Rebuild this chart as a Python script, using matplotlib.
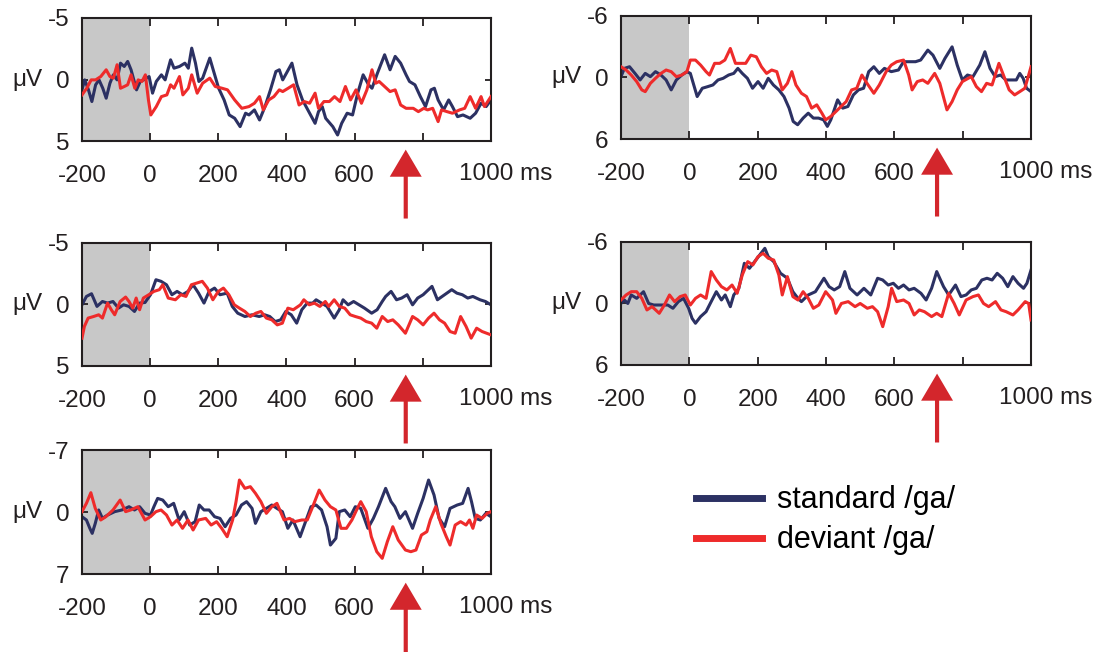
import matplotlib

matplotlib.use("Agg")
import matplotlib.pyplot as plt
from matplotlib.lines import Line2D

plt.rcParams["font.family"] = ["Liberation Sans", "DejaVu Sans"]

STD_COLOR = "#2c3163"
DEV_COLOR = "#ee2b2b"
ARROW_COLOR = "#d3262c"
BASELINE_COLOR = "#c8c8c8"

# panel 1 (top left), -5..5 uV
p1_std_t = [-200, -192, -181, -171, -160, -150, -139, -129, -118, -108, -97, -87, -76, -66, -56,
            -40, -29, -19, -3, 7, 18, 33, 44, 60, 70, 86, 102, 112, 122, 133, 143, 154, 175, 185,
            201, 217, 232, 248, 264, 280, 290, 306, 321, 337, 353, 369, 379, 389, 400, 416, 431,
            447, 468, 484, 494, 505, 515, 536, 550, 562, 578, 594, 609, 625, 641, 651, 667, 688,
            704, 719, 735, 751, 761, 777, 793, 808, 824, 834, 845, 861, 876, 887, 902, 918, 939,
            955, 971, 986, 1000]
p1_std_v = [0.84, 0.03, 0.84, 1.79, 0.43, 0.03, 0.71, 1.52, 0.30, -0.38, 0.03, -1.33, -1.06, -1.47,
            -0.79, 0.84, 0.16, 0.03, -0.24, 1.11, 0.16, -0.38, 0.03, -1.60, -0.92, -1.06, -1.33,
            -0.92, -2.55, -1.33, 0.16, -0.11, -1.74, -0.79, 0.71, 1.66, 2.88, 3.15, 3.83, 2.74,
            2.88, 2.47, 3.29, 2.20, 0.84, -0.65, -0.79, 0.03, -0.52, -1.33, 0.43, 1.66, 2.74, 3.56,
            2.61, 2.20, 3.15, 3.83, 4.51, 3.56, 2.74, 2.88, 1.11, -0.38, 0.43, 0.71, -0.52, -2.01,
            -0.79, -1.88, -1.33, -0.38, 0.16, 0.43, 1.39, 2.20, 0.84, 0.71, 1.66, 2.47, 1.66, 2.20,
            3.02, 2.88, 3.15, 2.74, 1.93, 2.20, 1.66]
p1_dev_t = [-200, -186, -173, -160, -145, -129, -118, -108, -97, -87, -76, -66, -56, -45, -35, -24,
            -14, -5, 2, 18, 33, 49, 60, 70, 86, 96, 112, 122, 138, 154, 175, 191, 211, 227, 248,
            269, 290, 306, 321, 332, 348, 363, 379, 389, 405, 421, 437, 452, 468, 484, 494, 510,
            526, 541, 557, 573, 588, 604, 620, 636, 651, 662, 672, 688, 704, 719, 735, 751, 772,
            787, 803, 814, 829, 845, 855, 871, 887, 908, 923, 939, 955, 971, 981, 1000]
p1_dev_v = [1.25, 0.71, 0.03, 0.03, -0.24, -0.79, -0.24, -0.11, -1.20, 0.71, 0.57, 0.43, -0.38,
            0.71, 0.03, 0.16, -0.38, 1.66, 2.88, 2.20, 1.39, 1.25, 0.43, 0.71, -0.24, 1.25, 0.71,
            -0.38, 1.11, 0.30, -0.11, 0.57, 0.71, 0.84, 1.66, 2.34, 2.20, 1.93, 1.39, 2.47, 1.66,
            1.39, 0.84, 0.98, 0.71, 0.43, 2.07, 1.79, 1.93, 1.11, 2.34, 1.79, 1.79, 1.39, 1.79,
            0.57, 1.66, 0.84, 1.93, 0.84, -0.79, 0.30, 0.16, 0.57, 0.98, 0.84, 2.07, 2.34, 2.34,
            2.61, 2.34, 2.47, 2.34, 3.42, 2.47, 2.61, 2.74, 2.47, 2.34, 1.39, 2.34, 1.39, 2.20, 1.39]

# panel 2 (top right), -6..6 uV
p2_std_t = [-200, -190, -175, -159, -144, -129, -114, -99, -83, -68, -53, -38, -22, -7, 3, 13, 23,
            38, 54, 69, 84, 99, 115, 130, 142, 155, 170, 185, 201, 216, 231, 246, 262, 277, 292,
            304, 317, 333, 348, 363, 378, 393, 404, 414, 424, 434, 449, 464, 480, 495, 510, 525,
            540, 556, 571, 591, 612, 627, 647, 662, 677, 698, 713, 733, 748, 769, 784, 799, 814,
            830, 850, 865, 880, 895, 911, 926, 941, 957, 967, 977, 987, 1000]
p2_std_v = [-0.08, -0.89, -1.05, -0.40, 0.24, -0.40, -0.08, -0.57, -0.24, 0.24, 1.21, 0.24, -0.24,
            -0.57, -0.40, 0.73, 1.86, 1.05, 0.89, 0.73, 0.24, 0.08, -0.24, -0.40, -0.89, -0.40,
            0.08, 1.05, 0.40, 1.05, 0.08, 0.73, 1.21, 1.86, 2.99, 4.29, 4.61, 3.96, 3.48, 3.96,
            3.96, 4.13, 4.77, 4.13, 3.16, 2.18, 2.99, 2.83, 1.70, 1.21, 1.05, -0.57, -1.05, -0.40,
            -0.89, -0.57, -0.73, -1.54, -1.54, -1.54, -1.70, -2.67, -2.18, -0.89, -1.86, -2.99,
            -1.21, 0.24, -0.24, -0.08, -1.21, -2.51, -0.89, -0.08, -0.24, 0.24, 0.24, 0.24, -0.40,
            0.08, 1.05, 1.38]
p2_dev_t = [-200, -185, -170, -154, -139, -129, -114, -99, -83, -68, -53, -38, -22, -7, 3, 18, 33,
            49, 59, 74, 89, 104, 120, 135, 150, 165, 180, 196, 211, 226, 241, 256, 272, 287, 300,
            312, 328, 343, 358, 373, 388, 399, 414, 429, 444, 459, 475, 490, 505, 520, 540, 556,
            576, 591, 607, 627, 642, 652, 667, 683, 698, 718, 733, 754, 769, 784, 799, 825, 840,
            855, 870, 886, 906, 921, 936, 952, 967, 982, 1000]
p2_dev_v = [-1.05, -0.73, -0.24, 0.40, 1.21, 1.38, 0.57, 0.08, -0.40, -0.73, -0.57, -0.08, -0.24,
            -0.57, -1.70, -1.70, -1.21, -0.57, -0.24, -1.38, -1.38, -1.70, -2.83, -1.38, -1.38,
            -1.38, -2.18, -2.02, -1.05, -0.40, -0.73, -0.57, 1.21, 0.57, -0.57, 0.73, 1.54, 1.86,
            2.99, 2.67, 3.48, 4.13, 3.80, 3.32, 2.83, 2.35, 1.21, 1.05, -0.24, 0.57, 1.54, 0.73,
            -0.57, -1.21, -1.54, -1.70, -0.24, 1.21, 0.40, 0.24, 0.57, -0.40, 0.57, 3.16, 2.35,
            1.21, 0.40, -0.08, 0.89, 1.38, 0.57, 0.73, -1.38, -0.08, 1.21, 1.70, 1.38, 1.05, -1.05]

# panel 3 (middle left), -5..5 uV
p3_std_t = [-200, -187, -172, -156, -140, -125, -109, -93, -78, -62, -46, -31, -15, 1, 17, 32, 48,
            64, 79, 95, 111, 126, 142, 158, 173, 189, 205, 226, 241, 257, 278, 299, 320, 336, 351,
            367, 383, 398, 414, 430, 445, 461, 477, 487, 503, 519, 540, 555, 566, 581, 597, 613,
            629, 650, 666, 681, 691, 707, 723, 738, 754, 770, 785, 801, 827, 843, 864, 885, 900,
            916, 932, 947, 968, 984, 1000]
p3_std_v = [0.03, -0.65, -0.87, 0.16, -0.24, -0.11, -0.24, 0.30, 0.03, 0.16, 0.57, -0.11, -0.16,
            -0.79, -2.01, -1.88, -1.60, -0.79, -1.06, -0.79, -1.06, -1.60, -0.92, -0.11, -1.06,
            -1.33, -0.79, -0.92, 0.16, 0.71, 0.98, 0.84, 0.98, 0.84, 0.98, 1.39, 1.25, 0.57, 0.84,
            1.52, 0.43, -0.11, -0.11, -0.38, -0.11, 0.16, 1.11, 0.43, -0.38, 0.03, -0.24, 0.03,
            0.30, 0.71, 0.43, -0.24, -0.65, -1.06, -0.38, -0.52, -0.79, 0.03, -0.52, -0.79, -1.47,
            -0.38, -0.79, -1.20, -0.92, -0.79, -0.52, -0.65, -0.38, -0.24, 0.03]
p3_dev_t = [-200, -193, -182, -166, -151, -140, -125, -114, -104, -88, -72, -62, -51, -41, -31,
            -20, -4, 11, 27, 37, 53, 74, 90, 105, 121, 137, 153, 168, 184, 200, 215, 231, 247, 262,
            278, 294, 310, 325, 341, 357, 373, 388, 404, 420, 441, 451, 467, 482, 498, 514, 524,
            540, 555, 571, 587, 602, 618, 634, 650, 665, 681, 697, 712, 728, 749, 770, 785, 801,
            817, 833, 849, 864, 880, 895, 911, 927, 942, 958, 974, 1000]
p3_dev_v = [2.74, 1.79, 1.11, 0.98, 0.84, 1.11, -0.11, 0.43, 0.84, -0.24, -0.60, -0.24, 0.30,
            -0.52, 0.43, -0.52, -0.79, -1.06, -1.20, -1.60, -0.52, -0.38, -0.79, -0.65, -1.60,
            -1.74, -1.88, -1.33, -0.38, -1.06, -1.33, -0.79, 0.03, 0.30, 0.57, 0.98, 0.71, 0.57,
            1.11, 1.25, 1.66, 1.52, 0.30, 0.43, 0.03, -0.38, 0.03, -0.11, 0.16, -0.24, 0.16, -0.38,
            0.16, 0.30, 0.84, 0.98, 1.11, 1.39, 1.52, 1.93, 0.98, 1.39, 1.25, 1.66, 2.34, 0.98,
            1.25, 1.66, 1.11, 0.71, 1.25, 1.52, 2.20, 2.34, 0.98, 1.79, 2.74, 1.93, 2.20, 2.47]

# panel 4 (middle right), -6..6 uV
p4_std_t = [-200, -190, -180, -170, -154, -134, -119, -104, -83, -63, -48, -32, -17, -2, 8, 18,
            33, 49, 64, 79, 94, 105, 120, 130, 145, 161, 176, 191, 206, 221, 231, 247, 267, 287,
            303, 318, 328, 348, 369, 394, 409, 424, 440, 455, 470, 491, 511, 531, 551, 566, 582,
            597, 612, 627, 643, 658, 678, 693, 709, 724, 744, 759, 779, 795, 810, 825, 840, 856,
            871, 886, 901, 917, 932, 947, 962, 978, 988, 1000]
p4_std_v = [0.0, -0.34, 0.0, -0.83, -0.50, -1.15, 0.0, 0.15, 0.15, 0.15, 0.47, -0.18, -0.50, 0.47,
            1.45, 1.93, 1.28, 0.80, -0.18, -1.15, -0.34, -0.83, 0.31, -0.83, -1.48, -3.92, -3.43,
            -4.08, -4.73, -5.38, -4.57, -4.08, -2.94, -2.46, -1.15, -0.50, -0.18, -0.83, -1.15,
            -2.46, -1.64, -1.32, -1.64, -3.11, -1.48, -0.83, -1.48, -0.83, -2.46, -2.29, -1.80,
            -1.97, -1.48, -1.80, -1.32, -1.48, -0.99, -0.34, -1.48, -3.11, -1.64, -0.83, -1.80,
            -0.67, -0.83, -1.32, -1.48, -2.29, -2.46, -2.29, -2.94, -2.46, -1.64, -2.62, -1.97,
            -1.48, -1.97, -3.27]
p4_dev_t = [-200, -185, -170, -154, -139, -124, -109, -88, -73, -58, -43, -27, -12, 3, 18, 33,
            49, 64, 79, 94, 110, 125, 140, 155, 171, 186, 201, 216, 231, 247, 262, 272, 287, 303,
            318, 333, 348, 363, 379, 399, 419, 429, 445, 465, 485, 500, 521, 536, 551, 566, 582,
            592, 607, 627, 643, 658, 673, 688, 709, 724, 739, 759, 775, 790, 810, 830, 846, 861,
            876, 896, 912, 927, 947, 962, 983, 993, 1000]
p4_dev_v = [-0.34, -0.83, -1.15, -1.15, -0.50, 0.63, 0.31, 0.96, 0.15, -0.83, -0.18, -0.67, -0.83,
            0.15, -0.50, -0.83, -0.50, -3.11, -2.29, -1.64, -1.32, -1.80, -0.99, -2.78, -4.08,
            -3.76, -4.57, -4.89, -4.41, -4.24, -2.78, -0.83, -2.62, -0.67, -0.34, -1.15, -0.50,
            0.47, 0.15, -1.15, -0.34, 0.96, 0.0, -0.18, 0.31, 0.0, 0.47, 0.31, 0.80, 2.26, 0.31,
            -1.48, -0.18, -0.34, 0.0, 1.12, 0.63, 0.80, 1.28, 0.96, 1.28, -0.99, 0.0, 1.12, -0.34,
            -0.67, -0.83, 0.0, 0.31, -0.18, 0.63, 0.80, 1.12, 0.63, -0.18, 0.0, 1.61]

# panel 5 (bottom left), -7..7 uV
p5_std_t = [-200, -187, -177, -170, -161, -151, -140, -125, -104, -83, -62, -46, -31, -15, 1, 11,
            22, 37, 53, 69, 85, 100, 116, 132, 144, 158, 173, 189, 205, 220, 236, 252, 268, 283,
            299, 309, 325, 341, 357, 372, 388, 404, 419, 440, 456, 472, 487, 503, 519, 529, 545,
            555, 571, 587, 602, 618, 639, 655, 670, 691, 707, 718, 733, 749, 770, 785, 801, 817,
            833, 848, 864, 880, 901, 917, 933, 943, 954, 969, 985, 1000]
p5_std_v = [0.53, 0.90, 1.84, 2.41, 1.28, -0.23, 0.72, 0.34, -0.04, -0.23, -0.60, -0.23, -0.60,
            0.15, 0.34, -0.60, -1.54, -1.35, -0.60, -0.98, 0.90, -0.04, 1.47, 1.09, -0.79, -0.23,
            -0.23, 0.53, 0.72, 1.66, 0.72, 0.34, -0.79, -1.17, -0.41, 1.28, -0.04, -0.41, -0.79,
            -0.41, -0.04, 1.84, 0.90, 2.79, 1.09, -0.60, -0.79, -0.23, 1.66, 3.73, 2.97, -0.04,
            -0.23, 0.53, -0.60, -0.41, 1.84, 0.72, -0.60, -2.67, -1.17, -0.60, 0.72, -0.04, 1.84,
            0.15, -1.54, -3.61, -1.92, 0.72, 1.66, -0.41, -0.79, -0.98, -2.67, -1.17, 0.72, 0.90,
            0.15, 0.53]
p5_dev_t = [-200, -187, -174, -161, -145, -130, -109, -88, -72, -57, -36, -15, 1, 17, 32, 48, 64,
            79, 95, 111, 126, 142, 163, 179, 195, 210, 226, 242, 252, 262, 278, 294, 309, 325,
            341, 357, 372, 393, 409, 424, 445, 461, 477, 496, 513, 529, 545, 560, 576, 592, 608,
            618, 634, 649, 665, 681, 696, 712, 728, 749, 765, 780, 796, 812, 822, 838, 853, 869,
            880, 895, 911, 927, 937, 947, 958, 974, 989, 1000]
p5_dev_v = [-0.04, -0.98, -2.18, -0.41, 0.90, 0.53, -0.23, -1.35, -0.04, -0.23, -0.60, 0.90, 0.53,
            -0.04, -0.23, 0.34, 1.47, 0.90, 1.84, 0.90, 2.03, 0.90, 0.72, 1.47, 1.09, 1.84, 2.79,
            0.90, -1.17, -3.61, -2.67, -2.86, -2.11, -1.17, 0.15, -0.60, -0.98, 0.90, 0.72, 1.09,
            0.90, 0.90, -0.60, -2.48, -1.35, -0.60, -0.23, 1.84, 1.84, 0.90, -0.41, -1.17, -0.04,
            2.79, 4.48, 5.23, 3.35, 1.66, 3.16, 4.29, 4.48, 4.29, 2.60, 2.22, 0.90, -0.60, 1.28,
            2.79, 3.73, 1.47, 1.09, 1.47, 0.90, 1.84, 0.34, 0.72, 0.15, -0.04]

x_ticks = [-200, 0, 200, 400, 600, 800, 1000]
x_tick_labels = ["-200", "0", "200", "400", "600", "", ""]

# [left, bottom, width, height] in figure fractions, y limit, arrow latency (ms), arrow tail
panels = [
    ([0.0744, 0.7837, 0.3711, 0.1887], p1_std_t, p1_std_v, p1_dev_t, p1_dev_v, 5, 750, -0.63),
    ([0.5635, 0.7868, 0.3721, 0.1887], p2_std_t, p2_std_v, p2_dev_t, p2_dev_v, 6, 725, -0.63),
    ([0.0744, 0.4387, 0.3711, 0.1887], p3_std_t, p3_std_v, p3_dev_t, p3_dev_v, 5, 750, -0.63),
    ([0.5635, 0.4402, 0.3721, 0.1887], p4_std_t, p4_std_v, p4_dev_t, p4_dev_v, 6, 725, -0.63),
    ([0.0744, 0.1196, 0.3711, 0.1902], p5_std_t, p5_std_v, p5_dev_t, p5_dev_v, 7, 750, -0.63),
]

TEXT_SIZE = 17.5


def draw_panel(ax, std_t, std_v, dev_t, dev_v, lim, arrow_ms, arrow_tail):
    ax.axvspan(-200, 0, color=BASELINE_COLOR, lw=0, zorder=0)
    ax.plot(std_t, std_v, color=STD_COLOR, lw=2.2, zorder=2, solid_joinstyle="round")
    ax.plot(dev_t, dev_v, color=DEV_COLOR, lw=2.2, zorder=3, solid_joinstyle="round")
    ax.set_xlim(-200, 1000)
    ax.set_ylim(lim, -lim)
    ax.set_xticks(x_ticks)
    ax.set_xticklabels(x_tick_labels)
    ax.set_yticks([-lim, 0, lim])
    ax.set_yticklabels([str(-lim), "0", str(lim)])
    ax.tick_params(axis="x", direction="in", top=True, length=5.5, width=1.3,
                   labelsize=TEXT_SIZE, pad=17, colors="#231f20")
    ax.tick_params(axis="y", direction="in", right=True, length=4.5, width=1.3,
                   labelsize=TEXT_SIZE, pad=9, colors="#231f20")
    for spine in ax.spines.values():
        spine.set_linewidth(1.5)
        spine.set_color("#231f20")
    ax.annotate("1000 ms", xy=(1000, 0), xycoords=ax.get_xaxis_transform(),
                xytext=(-23, -23.5), textcoords="offset points",
                ha="left", va="center", fontsize=TEXT_SIZE, color="#231f20")
    ax.annotate("μV", xy=(0, 0.5), xycoords="axes fraction",
                xytext=(-50, 0), textcoords="offset points",
                ha="left", va="center", fontsize=TEXT_SIZE, color="#231f20")
    ax.annotate("", xy=(arrow_ms, -0.07), xycoords=ax.get_xaxis_transform(),
                xytext=(arrow_ms, arrow_tail), textcoords=ax.get_xaxis_transform(),
                arrowprops=dict(arrowstyle="simple,head_length=1.95,head_width=2.3,tail_width=0.3",
                                mutation_scale=10, lw=0, color=ARROW_COLOR,
                                shrinkA=0, shrinkB=0),
                annotation_clip=False)


fig = plt.figure(figsize=(11.02, 6.52), dpi=100)

for rect, std_t, std_v, dev_t, dev_v, lim, arrow_ms, arrow_tail in panels:
    ax = fig.add_axes(rect)
    draw_panel(ax, std_t, std_v, dev_t, dev_v, lim, arrow_ms, arrow_tail)

handles = [Line2D([], [], color=STD_COLOR, lw=5), Line2D([], [], color=DEV_COLOR, lw=5)]
fig.legend(handles, ["standard /ga/", "deviant /ga/"], loc="center left",
           bbox_to_anchor=(0.632, 0.202), frameon=False, fontsize=22,
           handlelength=2.16, handletextpad=0.46, labelspacing=0.33,
           borderpad=0, borderaxespad=0)

fig.savefig("out.png", dpi=100)
